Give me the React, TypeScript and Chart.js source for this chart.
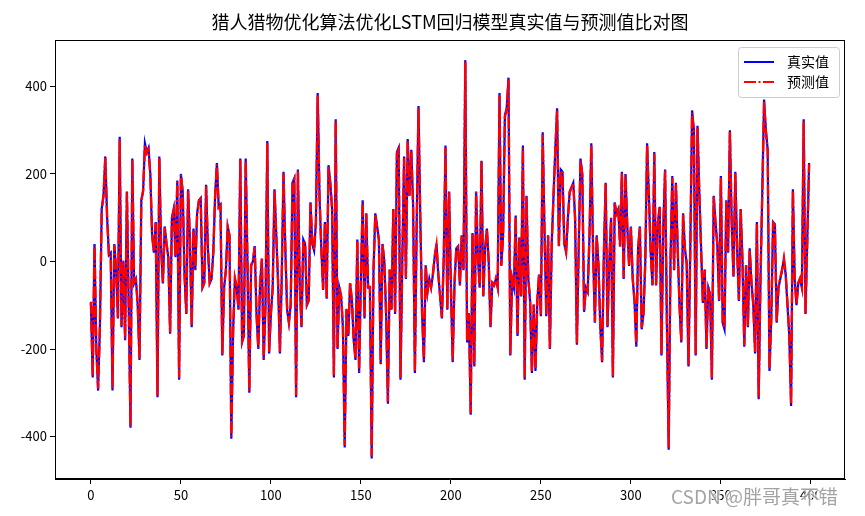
import React, { useEffect, useRef } from "react";
import { Chart, registerables } from "chart.js";

Chart.register(...registerables);

const TITLE = "猎人猎物优化算法优化LSTM回归模型真实值与预测值比对图";
const SERIES_NAMES = ["真实值", "预测值"];
const WATERMARK = "CSDN @胖哥真不错";
const X_TICKS = [0, 50, 100, 150, 200, 250, 300, 350, 400];
const Y_TICKS = [-400, -200, 0, 200, 400];

const actualValues = [
  -95, -265, 40, -200, -295, -150, 120, 150, 240, 100, 15, 20, -295, 40, -20, -130, 285, -150, 0, -180, 160, -100, -380, 235, -50, -40, -100, -225, 140, 160, 270, 250,
  260, 200, 60, 20, 90, -310, 240, 30, -50, 80, 40, 10, -165, 100, 120, 10, 185, -270, 200, 160, -30, -120, 165, 50, -150, 75, -20, 110, 140, 145, -60, -50, 175, 30, -50,
  -40, 20, 150, 225, 125, 130, -215, -60, -20, 80, 60, -405, -160, -40, -60, -110, 235, -185, -170, 235, -10, -300, -10, 0, 35, -120, -200, -50, 5, -225, -100, 275, -210, -120,
  -60, 165, 60, -50, -210, -40, 205, 30, -110, -140, -100, 180, 190, -310, 210, -50, -150, 50, 40, -100, -90, 135, 40, 25, 90, 385, 150, 30, -65, 90, -85, 220, 180, 120, -265,
  325, -200, -60, -80, -150, -425, -110, -170, -50, -90, -180, -225, 50, -255, -40, 140, -130, 110, -60, -60, -450, -20, 110, 80, 50, -235, 40, 0, -120, -325, -20, -110, 120, -120, 250,
  260, -270, 0, 240, -40, 280, 150, 255, 130, -255, 90, 355, 100, -120, -230, -10, -70, -40, -60, -30, 10, 40, -30, -80, -130, 0, 265, -110, 160, -60, -230, -50, 30, 35,
  -55, 60, -20, 460, -185, -120, -350, 65, -240, 160, 10, -60, 230, -80, 30, 75, 0, -150, -50, -55, -40, -60, 385, -10, 60, 335, 350, 420, -215, -40, -60, 105, -170, 55,
  -80, 265, -270, 150, -40, -90, -255, -100, -250, -90, -30, -125, 295, 70, -125, 60, -200, 40, 150, 255, 350, 35, 210, 205, 40, 20, 100, 160, 170, 180, 100, -190, 30, 235,
  200, -115, -60, -70, 60, 270, 20, -140, 60, -10, -150, -230, 20, 180, -150, 0, 100, -265, 135, 110, 120, 35, 205, -40, 200, 80, -10, 80, -40, -90, -195, 30, 80, -155,
  -120, 0, 270, 150, 20, -55, 250, -55, 90, 125, -215, 80, 210, -140, -430, 0, 195, -20, 180, 30, -100, -185, 110, 30, -5, -240, 30, 345, 300, -215, 310, 160, 30, -95, -20,
  -200, -60, -75, -270, 150, 90, 40, -90, 195, -140, -155, 140, 20, 300, 90, -35, 205, 30, -90, 120, 0, -195, -10, -150, 30, -50, -100, -210, 90, -315, -40, 160, 370, 300,
  255, -250, -130, 90, 85, -140, -60, -40, -20, 5, -30, -100, -170, -330, 165, -40, -100, -50, -40, -60, 325, -120, 50, 225,
];

const predictedValues = [
  -92, -262, 38, -198, -290, -148, 118, 152, 236, 102, 17, 18, -290, 38, -18, -128, 280, -146, 2, -176, 158, -98, -376, 232, -48, -42, -98, -222, 138, 162, 266, 248,
  256, 198, 62, 22, 88, -306, 236, 32, -48, 78, 42, 12, -162, 98, 118, 12, 182, -266, 198, 158, -28, -118, 162, 52, -146, 73, -18, 108, 138, 143, -58, -48, 172, 32, -48,
  -38, 22, 148, 222, 123, 128, -212, -58, -18, 78, 58, -400, -158, -38, -58, -108, 232, -182, -168, 232, -8, -296, -8, 2, 33, -118, -198, -48, 7, -222, -98, 270, -206, -118,
  -58, 162, 58, -48, -206, -38, 202, 32, -108, -138, -98, 178, 188, -306, 206, -48, -148, 48, 42, -98, -88, 133, 42, 27, 88, 380, 148, 32, -63, 88, -83, 216, 178, 118, -260,
  320, -197, -58, -78, -148, -420, -108, -168, -48, -88, -178, -222, 48, -252, -38, 138, -128, 108, -58, -58, -445, -18, 108, 78, 48, -232, 38, 2, -118, -320, -18, -108, 118, -118, 246,
  256, -266, 2, 236, -38, 276, 148, 252, 128, -252, 88, 350, 98, -118, -226, -8, -68, -38, -58, -28, 12, 38, -28, -78, -128, 2, 260, -108, 158, -58, -226, -48, 28, 33,
  -53, 58, -18, 455, -182, -118, -346, 63, -236, 158, 12, -58, 227, -78, 28, 73, 2, -148, -48, -53, -38, -58, 380, -8, 58, 330, 346, 415, -212, -38, -58, 103, -168, 53,
  -78, 260, -266, 148, -38, -88, -252, -98, -246, -88, -28, -123, 290, 68, -123, 58, -198, 38, 148, 252, 345, 33, 207, 202, 38, 22, 98, 158, 168, 178, 98, -187, 28, 232,
  198, -113, -58, -68, 58, 266, 22, -138, 58, -8, -148, -227, 18, 178, -148, 2, 98, -262, 133, 108, 118, 33, 202, -38, 198, 78, -8, 78, -38, -88, -192, 28, 78, -152,
  -118, 2, 266, 148, 22, -53, 246, -53, 88, 123, -212, 78, 207, -138, -425, 2, 192, -18, 178, 28, -98, -182, 108, 28, -3, -236, 28, 340, 296, -212, 306, 158, 28, -93, -18,
  -197, -58, -73, -266, 148, 88, 38, -88, 192, -138, -152, 138, 22, 296, 88, -33, 202, 28, -88, 118, 2, -192, -8, -148, 28, -48, -98, -207, 88, -310, -38, 158, 365, 296,
  252, -246, -128, 88, 83, -138, -58, -38, -18, 7, -28, -98, -168, -326, 162, -38, -98, -48, -38, -58, 320, -118, 48, 222,
];

const FONT = "'Noto Sans CJK SC', 'DejaVu Sans', sans-serif";
const RED_DASH = [12, 2.5, 2, 2.5];

const decorPlugin = {
  id: "decor",
  afterDraw(chart: any) {
    const { ctx, chartArea } = chart;
    const { left, right, top, bottom } = chartArea;
    ctx.save();
    // frame
    ctx.strokeStyle = "#000";
    ctx.lineWidth = 1;
    ctx.strokeRect(Math.round(left) + 0.5, Math.round(top) + 0.5, Math.round(right - left) - 1, Math.round(bottom - top) - 1);
    // title
    ctx.fillStyle = "#000";
    ctx.font = `18px ${FONT}`;
    ctx.textAlign = "center";
    ctx.textBaseline = "middle";
    ctx.fillText(TITLE, (left + right) / 2, 22);
    // legend
    const lx = 738, ly = 47, lw = 101, lh = 50;
    ctx.beginPath();
    (ctx as any).roundRect(lx + 0.5, ly + 0.5, lw, lh, 3);
    ctx.fillStyle = "rgba(255,255,255,0.85)";
    ctx.fill();
    ctx.strokeStyle = "#cccccc";
    ctx.lineWidth = 1;
    ctx.stroke();
    const colors = ["#0000ff", "#ff0000"];
    const dashes = [[], RED_DASH];
    SERIES_NAMES.forEach((name, i) => {
      const y = 62 + i * 20;
      ctx.beginPath();
      ctx.setLineDash(dashes[i]);
      ctx.strokeStyle = colors[i];
      ctx.lineWidth = 2;
      ctx.moveTo(744, y);
      ctx.lineTo(774, y);
      ctx.stroke();
      ctx.setLineDash([]);
      ctx.fillStyle = "#000";
      ctx.font = `14px ${FONT}`;
      ctx.textAlign = "left";
      ctx.textBaseline = "middle";
      ctx.fillText(name, 787, y);
    });
    // watermark
    ctx.font = `19px ${FONT}`;
    ctx.textAlign = "left";
    ctx.textBaseline = "middle";
    ctx.lineWidth = 3;
    ctx.strokeStyle = "rgba(255,255,255,0.7)";
    ctx.strokeText(WATERMARK, 671, 497);
    ctx.fillStyle = "rgba(140,140,140,0.8)";
    ctx.fillText(WATERMARK, 671, 497);
    ctx.restore();
  },
};

export default function App() {
  const ref = useRef<HTMLCanvasElement>(null);
  useEffect(() => {
    const canvas = ref.current;
    if (!canvas) return;
    const tickFont = { family: FONT, size: 13 };
    const chart = new Chart(canvas, {
      type: "line",
      data: {
        datasets: [
          {
            label: SERIES_NAMES[0],
            data: actualValues.map((y, i) => ({ x: i, y })),
            borderColor: "#0000ff",
            borderWidth: 2.2,
            pointRadius: 0,
            tension: 0,
            fill: false,
            order: 2,
          },
          {
            label: SERIES_NAMES[1],
            data: predictedValues.map((y, i) => ({ x: i, y })),
            borderColor: "#ff0000",
            borderWidth: 2.4,
            borderDash: RED_DASH,
            pointRadius: 0,
            tension: 0,
            fill: false,
            order: 1,
          },
        ],
      },
      options: {
        responsive: false,
        animation: false,
        devicePixelRatio: 1,
        layout: { padding: { left: 0, right: 20, top: 40, bottom: 0 } },
        plugins: {
          legend: { display: false },
          title: { display: false },
          tooltip: { enabled: false },
        },
        scales: {
          x: {
            type: "linear",
            min: -19.95,
            max: 418.95,
            afterBuildTicks: (s: any) => {
              s.ticks = X_TICKS.map((v) => ({ value: v }));
            },
            afterFit: (s: any) => {
              s.height = 37;
            },
            grid: { display: true, drawOnChartArea: false, drawTicks: true, tickLength: 5, tickColor: "#000" },
            border: { display: true, color: "#000", width: 1 },
            ticks: { color: "#000", font: tickFont, padding: 3, maxRotation: 0, autoSkip: false, callback: (v: any) => String(v) },
          },
          y: {
            type: "linear",
            min: -497,
            max: 506,
            afterBuildTicks: (s: any) => {
              s.ticks = Y_TICKS.map((v) => ({ value: v }));
            },
            afterFit: (s: any) => {
              s.width = 55;
            },
            grid: { display: true, drawOnChartArea: false, drawTicks: true, tickLength: 5, tickColor: "#000" },
            border: { display: true, color: "#000", width: 1 },
            ticks: { color: "#000", font: tickFont, padding: 3, autoSkip: false, callback: (v: any) => String(v) },
          },
        },
      },
      plugins: [decorPlugin],
    } as any);
    return () => chart.destroy();
  }, []);
  return (
    <div style={{ position: "fixed", left: 0, top: 0, width: 865, height: 516, background: "#fff" }}>
      <canvas ref={ref} width={865} height={516} style={{ display: "block", width: 865, height: 516 }} />
    </div>
  );
}
